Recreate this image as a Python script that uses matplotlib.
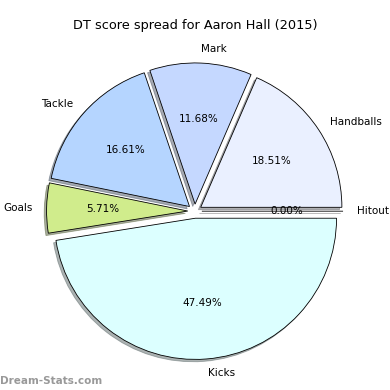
import matplotlib
matplotlib.use("Agg")
import matplotlib.pyplot as plt

labels = ["Handballs", "Mark", "Tackle", "Goals", "Kicks", "Hitout"]
values = [18.51, 11.68, 16.61, 5.71, 47.49, 0.0]
colors = ["#eaf0ff", "#c5d8ff", "#b5d5ff", "#d0ec8c", "#dcffff", "#f0f0f0"]
explode = [0.05, 0.05, 0.05, 0.05, 0.05, 0.05]

fig = plt.figure(figsize=(3.9, 3.9), dpi=100)
ax = fig.add_axes([0.047, 0.006, 0.905, 0.905])
wedges, texts, autotexts = ax.pie(
    values, labels=labels, colors=colors, explode=explode,
    autopct="%1.2f%%", startangle=0,
    shadow={"ox": -0.012, "oy": -0.012, "shade": 0.6},
    wedgeprops={"edgecolor": "black", "linewidth": 0.6},
    textprops={"fontsize": 7.5},
)
ax.set_aspect("equal")
fig.text(0.5, 0.925, "DT score spread for Aaron Hall (2015)", ha="center", fontsize=9.3)
fig.text(0.0, 0.015, "Dream-Stats.com", color="#999999", fontsize=7.5, fontweight="bold")
fig.savefig("out.png", dpi=100)
